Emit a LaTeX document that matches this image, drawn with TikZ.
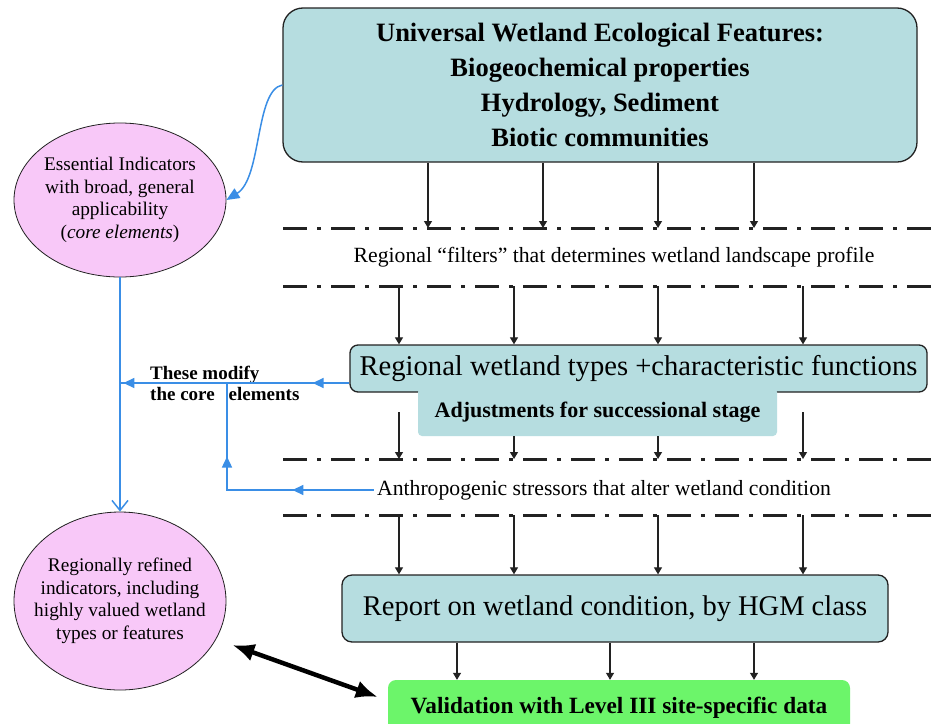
\documentclass[tikz,border=0pt]{standalone}
\usepackage{fontspec}
\setmainfont{Liberation Serif}
\usepackage{tikz}
\usetikzlibrary{arrows.meta,calc,positioning,shapes.geometric,decorations.markings}
\definecolor{pool}{HTML}{B6DDE0}
\definecolor{orchidpink}{HTML}{F8C8F8}
\definecolor{wetgreen}{HTML}{6CF56A}
\definecolor{skyblue}{HTML}{3A8EE6}
\definecolor{ink}{HTML}{222222}
\tikzset{
  skyhead/.tip={Triangle[length=11pt,width=10pt]},
  flow/.style={-{Triangle[length=7pt,width=8pt]},ink,line width=1.2pt},
  filt/.style={ink,line width=3pt,dash pattern=on 24pt off 10pt on 4pt off 10pt},
  feat/.style={rounded corners=#1,draw=ink,line width=1.3pt,fill=pool,align=center,inner sep=0pt},
  ind/.style={ellipse,draw=ink,line width=0.8pt,fill=orchidpink,align=center,inner xsep=-30pt,inner ysep=-15pt,
    minimum width=212pt,font=\fontsize{19.3}{22.5}\selectfont},
  skyline/.style={skyblue,line width=1.5pt},
  skytwo/.style 2 args={postaction={decorate},decoration={markings,
    mark=at position #1 with {\arrow{skyhead}},mark=at position #2 with {\arrow{skyhead}}}},
}

\begin{document}
\begin{tikzpicture}[x=1pt,y=-1pt]
  \useasboundingbox (0,0) rectangle (933,723);
  \fill[white] (0,0) rectangle (933,723);
  \clip (0,0) rectangle (933,723);
  % filter lines
  \foreach \y/\n in {228/f1,286/f2,459/f3,515/f4} {
    \coordinate (\n) at (283,\y);
    \draw[filt] (\n) -- (933,\y);
  }
  \node[font=\fontsize{21.7}{25}\selectfont] (filt) at (614,257) {Regional “filters” that determines wetland landscape profile};
  \node[font=\fontsize{21.7}{25}\selectfont] (anth) at (604,490) {Anthropogenic stressors that alter wetland condition};
  % boxes
  \node[feat=20pt,minimum width=634pt,minimum height=154pt,font=\bfseries\fontsize{26.5}{35}\selectfont] (top) at (600,85)
    {Universal Wetland Ecological Features:\\Biogeochemical properties\\Hydrology, Sediment\\Biotic communities};
  \node[feat=8pt,minimum width=577pt,minimum height=47pt,font=\fontsize{28.6}{32}\selectfont] (reg) at (638.5,368.5)
    {Regional wetland types +characteristic functions};
  \node[fill=pool,rounded corners=4pt,minimum width=359pt,minimum height=48pt,inner sep=0pt,
    font=\bfseries\fontsize{22}{24}\selectfont] (adj) at (597.5,412) {Adjustments for successional stage};
  \node[feat=10pt,minimum width=546pt,minimum height=67pt,font=\fontsize{28.5}{32}\selectfont] (rep) at (615,608.5)
    {Report on wetland condition, by HGM class};
  \node[fill=wetgreen,rounded corners=8pt,minimum width=462pt,minimum height=56pt,inner sep=0pt,
    font=\bfseries\fontsize{23.3}{26}\selectfont] (val) at (619,708) {Validation with Level III site-specific data};
  % indicators
  \node[ind,minimum height=154pt] (core) at (120,200)
    {Essential Indicators\\with broad, general\\applicability\\(\textit{core elements})};
  \node[ind,minimum height=178pt] (refined) at (120,601)
    {Regionally refined\\indicators, including\\highly valued wetland\\types or features};
  \node[anchor=west,align=left,inner sep=0pt,font=\bfseries\fontsize{19}{21}\selectfont] (mod) at (150,383)
    {These modify\\the core\hspace{14pt}elements};
  % black connectors
  \foreach \x in {428,543,658,754} \draw[flow] (top.south -| \x,0) -- (f1 -| \x,0);
  \foreach \x in {399,514,658,803} \draw[flow] (f2 -| \x,0) -- (reg.north -| \x,0);
  \foreach \x in {399,803} \draw[flow] (\x,412) -- (f3 -| \x,0);
  \foreach \x in {514,658} \draw[flow] (adj.south -| \x,0) -- (f3 -| \x,0);
  \foreach \x in {399,514,658,803} \draw[flow] (f4 -| \x,0) -- (rep.north -| \x,0);
  \foreach \x in {457,610,754} \draw[flow] (rep.south -| \x,0) -- (val.north -| \x,0);
  % blue connectors
  \coordinate (hj) at (120,383);
  \coordinate (vj) at (227,383);
  \draw[skyline,-{Triangle[length=13pt,width=11pt]}] (top.west) .. controls (255,90) and (262,178) .. (core.east);
  \draw[skyline,-{Straight Barb[length=10pt,width=16pt]}] (core.south) -- (refined.north);
  \draw[skyline,skytwo={0.16}{0.985}] (reg.west |- hj) -- (hj);
  \draw[skyline,skytwo={0.32}{0.71}] (anth.west) -| (vj);
  \draw[black,line width=4.5pt,{Latex[length=22pt,width=18pt]}-{Latex[length=22pt,width=18pt]}]
    ([shift={(6,44)}]refined.east) -- ([shift={(-10,-11)}]val.west);
\end{tikzpicture}
\end{document}
